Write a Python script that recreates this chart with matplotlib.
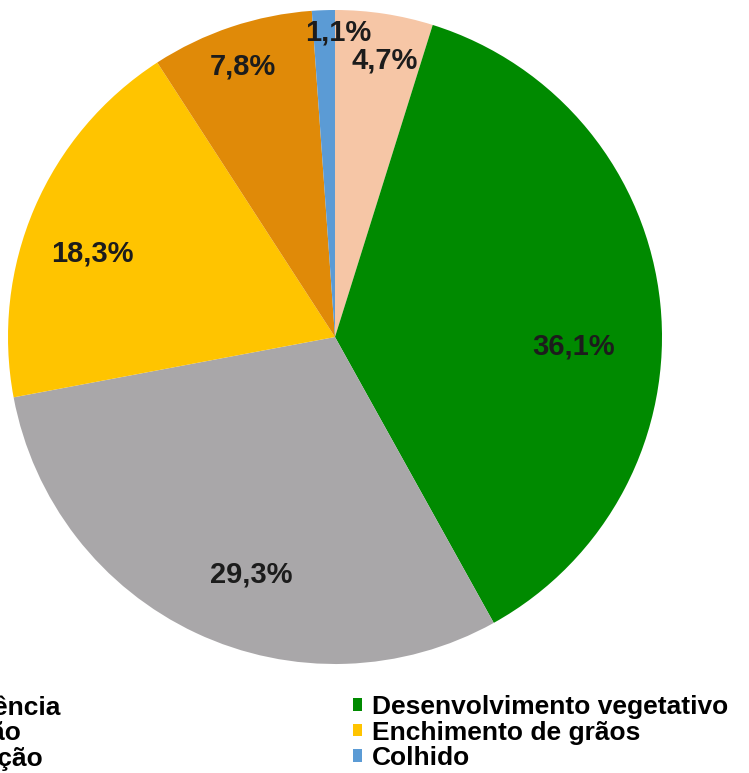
# pie chart of crop stages (percent of area)

# imports
import numpy as np
import matplotlib.pyplot as plt
from matplotlib.patches import Patch

# data, in the order the slices go round (clockwise from the top)
stages = ['Emergência', 'Desenvolvimento vegetativo', 'Floração',
          'Enchimento de grãos', 'Maturação', 'Colhido']
shares = [4.7, 36.1, 29.3, 18.3, 7.8, 1.1]
share_labels = ['4,7%', '36,1%', '29,3%', '18,3%', '7,8%', '1,1%']

# styles
colors = ['#F6C6A6', '#008A00', '#A9A7A9', '#FFC400', '#E08A08', '#5B9BD5']
label_r = [0.86, 0.73, 0.77, 0.785, 0.874, 0.93]
label_shift = [-1.4, -8.2, 5.7, 4.3, 0.2, -2.6]

plt.rcParams['font.family'] = ['Liberation Sans', 'DejaVu Sans']

W, H = 749, 773
fig = plt.figure(figsize=(W / 100, H / 100), dpi=100)

# pie centre and radius in pixels
cx, cy, R = 335, 337, 327
ax = fig.add_axes([(cx - R) / W, (H - cy - R) / H, 2 * R / W, 2 * R / H])

wedges, _ = ax.pie(shares, colors=colors, startangle=90, counterclock=False,
                   radius=1, wedgeprops={'linewidth': 0})
ax.set_xlim(-1, 1)
ax.set_ylim(-1, 1)
ax.axis('off')

# percentage labels inside the slices
for w, txt, r, sh in zip(wedges, share_labels, label_r, label_shift):
    ang = np.deg2rad((w.theta1 + w.theta2) / 2 + sh)
    ax.text(r * np.cos(ang), r * np.sin(ang), txt, ha='center', va='center',
            fontsize=21, fontweight='bold', color='#1c1c1c')

# legend in two columns: left column is cut by the figure edge
handles = [Patch(facecolor=c, edgecolor='none') for c in colors]
left_idx = [0, 2, 4]
right_idx = [1, 3, 5]

leg_kw = dict(frameon=False, borderpad=0, borderaxespad=0, handlelength=0.35,
              handleheight=0.35, handletextpad=0.38, labelspacing=0.06,
              prop={'size': 19, 'weight': 'bold'})

leg1 = fig.legend([handles[i] for i in left_idx], [stages[i] for i in left_idx],
                  loc='upper right', bbox_to_anchor=(61 / W, 1 - 695 / H), **leg_kw)
leg2 = fig.legend([handles[i] for i in right_idx], [stages[i] for i in right_idx],
                  loc='upper left', bbox_to_anchor=(353 / W, 1 - 695 / H), **leg_kw)

fig.savefig('out.png', dpi=100)
